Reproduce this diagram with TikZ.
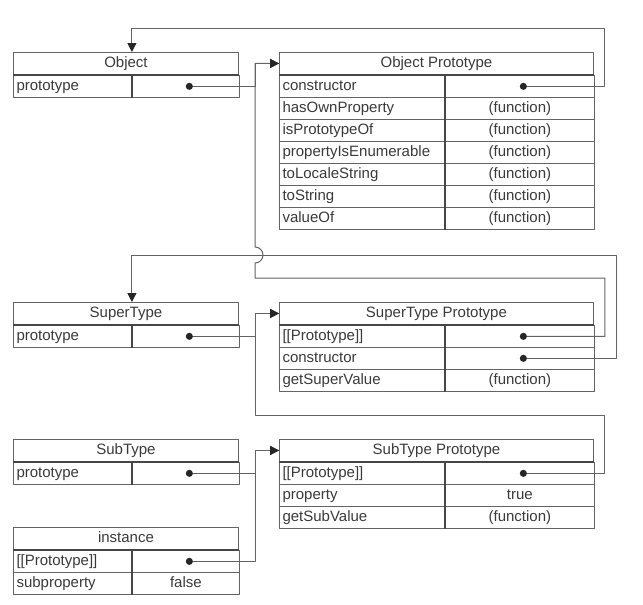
\documentclass[tikz,border=0pt]{standalone}
\usepackage{fontspec}
\setmainfont{Liberation Sans}
\usetikzlibrary{arrows.meta,positioning,calc}
\definecolor{rule}{HTML}{646464}
\definecolor{ink}{HTML}{3A3A3A}
\tikzset{
  every picture/.style={line join=round},
  cell/.style={draw=rule, line width=0.9pt, minimum height=22pt, inner sep=0pt,
    anchor=north west, text=ink, text height=1.8ex, text depth=0.2ex},
  hdr/.style={cell},
  keycell/.style={cell},
  valcell/.style={cell},
  every label/.style={text=ink, text height=1.8ex, text depth=0.2ex},
  headrule/.style={draw=rule!70!black, line width=1.5pt},
  colrule/.style={draw=rule!70!black, line width=1.2pt},
  link/.style={draw=rule, line width=1pt,
    {Circle[length=7pt,color=black!85]}-{Triangle[length=9pt,width=9pt,color=black!85]}},
}
% #1 name, #2 top left corner, #3 key width, #4 value width, #5 title, #6 key/value rows
\newcommand{\classtable}[6]{%
  \node[hdr, minimum width={(#3+#4)*1pt}] (#1) at #2 {#5};
  \foreach \k/\v [count=\i] in {#6} {
    \node[keycell, minimum width=#3pt, label={[anchor=west]west:{\k}}]
      (#1-k\i) at ($(#1.south west)+(0,{22*(\i-1)})$) {};
    \node[valcell, minimum width=#4pt] (#1-v\i) at (#1-k\i.north east) {\v};
    \draw[colrule] (#1-k\i.north east) -- (#1-k\i.south east);
  }
  \draw[headrule] (#1.south west) -- (#1.south east);
}

\begin{document}
\begin{tikzpicture}[x=1pt,y=-1pt,font=\fontsize{15}{18}\selectfont]
\useasboundingbox (0,0) rectangle (643,605);

\classtable{obj}{(13,52)}{118}{107}{Object}{prototype/{}}
\classtable{objp}{(279,52)}{165}{149}{Object Prototype}{constructor/{},hasOwnProperty/(function),isPrototypeOf/(function),propertyIsEnumerable/(function),toLocaleString/(function),toString/(function),valueOf/(function)}
\classtable{sup}{(13,302)}{118}{107}{SuperType}{prototype/{}}
\classtable{supp}{(279,302)}{165}{149}{SuperType Prototype}{{[[Prototype]]}/{},constructor/{},getSuperValue/(function)}
\classtable{sub}{(13,439)}{118}{107}{SubType}{prototype/{}}
\classtable{subp}{(279,439)}{165}{149}{SubType Prototype}{{[[Prototype]]}/{},property/true,getSubValue/(function)}
\classtable{inst}{(13,527)}{118}{107}{instance}{{[[Prototype]]}/{},subproperty/false}

% constructors point back
\draw[link] (objp-v1.center) -| ([shift={(11pt,24pt)}]objp.north east) -| (obj.north -| obj-v1.west);
\draw[link] (supp-v2.center) -| ([shift={(23pt,47pt)}]supp.north east) -| (sup.north -| sup-v1.west);

% prototype chain
\coordinate (hop) at ([shift={(-24pt,39pt)}]supp.north west);
\draw[link] (obj-v1.center) -| ([xshift=-24pt]objp.west) -- (objp.west);
\draw[link] (supp-v1.center) -| ([shift={(11pt,24pt)}]supp.north east)
  -- ([shift={(-24pt,24pt)}]supp.north west) -- (hop)
  arc[start angle=-90, end angle=90, radius=8pt] -- ([xshift=-24pt]objp.west) -- (objp.west);
\draw[link] (sup-v1.center) -| ([xshift=-24pt]supp.west) -- (supp.west);
\draw[link] (subp-v1.center) -| ([shift={(11pt,24pt)}]subp.north east) -| ([xshift=-24pt]supp.west) -- (supp.west);
\draw[link] (sub-v1.center) -| ([xshift=-24pt]subp.west) -- (subp.west);
\draw[link] (inst-v1.center) -| ([xshift=-24pt]subp.west) -- (subp.west);
\end{tikzpicture}
\end{document}
